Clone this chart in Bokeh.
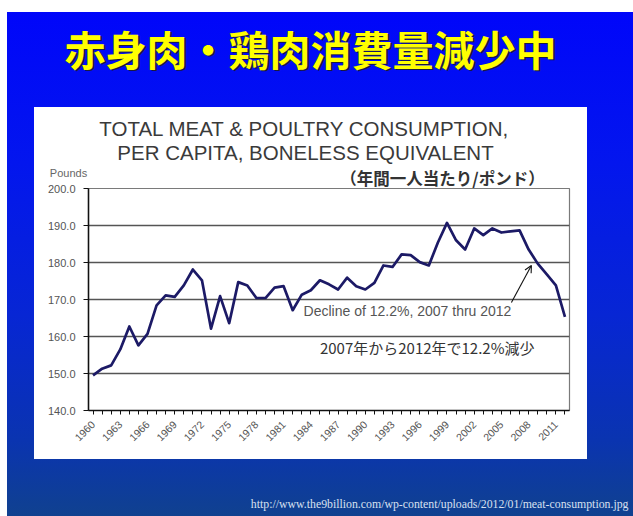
from bokeh.plotting import figure
from bokeh.models import (Label, Arrow, OpenHead, FixedTicker, NumeralTickFormatter,
                          ColumnDataSource, Range1d)
from bokeh.embed import file_html
from bokeh.resources import INLINE

# ---------------- data ----------------
years = list(range(1960, 2013))
consumption = [149.5, 151.3, 152.2, 156.5, 162.7, 157.6, 160.7, 168.4, 171.1, 170.7,
               173.8, 178.1, 175.2, 162.1, 170.9, 163.6, 174.7, 173.8, 170.4, 170.4,
               173.2, 173.6, 167.1, 171.3, 172.5, 175.2, 174.1, 172.7, 175.9, 173.6,
               172.7, 174.5, 179.2, 178.8, 182.2, 182.0, 180.1, 179.2, 185.4, 190.7,
               186.0, 183.5, 189.2, 187.4, 189.2, 188.1, 188.4, 188.7, 183.5, 179.7,
               176.8, 173.8, 165.3]
y_ticks = [140, 150, 160, 170, 180, 190, 200]
label_years = [y for y in years if (y - 1960) % 3 == 0]

main_title = "赤身肉・鶏肉消費量減少中"
chart_title_1 = "TOTAL MEAT & POULTRY CONSUMPTION,"
chart_title_2 = "PER CAPITA, BONELESS EQUIVALENT"
unit_en = "Pounds"
unit_jp = "（年間一人当たり/ポンド）"
note_en = "Decline of 12.2%, 2007 thru 2012"
note_jp = "2007年から2012年で12.2%減少"
source_url = "http://www.the9billion.com/wp-content/uploads/2012/01/meat-consumption.jpg"

W, H = 633, 516

# ---------------- chart ----------------
p = figure(width=W, height=H, output_backend="svg", toolbar_location=None, title=None,
           x_range=Range1d(1959.5, 2012.5), y_range=Range1d(140, 200),
           min_border_left=88, min_border_right=64, min_border_top=188, min_border_bottom=106)

p.border_fill_alpha = 0
p.background_fill_alpha = 0
p.outline_line_color = "#7a7a7a"
p.outline_line_width = 1.2
p.styles = {
    "background": ("linear-gradient(#ffffff, #ffffff) 34px 107px / 553px 352px no-repeat, "
                   "linear-gradient(180deg, #0006fa 0%, #0316ee 30%, #0726d4 60%, #0a34b0 85%, #10418f 100%) "
                   "7px 12px / 626px 504px no-repeat, #ffffff"),
}

src = ColumnDataSource(dict(year=years, value=consumption))
p.line("year", "value", source=src, line_color="#1c1a66", line_width=2.7, line_join="round")

p.yaxis.ticker = FixedTicker(ticks=y_ticks)
p.yaxis.formatter = NumeralTickFormatter(format="0.0")
p.yaxis.axis_line_color = "#111111"
p.yaxis.axis_line_width = 1.5
p.yaxis.major_tick_line_color = "#111111"
p.yaxis.major_tick_out = 5
p.yaxis.major_tick_in = 0
p.yaxis.minor_tick_line_color = None
p.yaxis.major_label_text_font = "Liberation Sans"
p.yaxis.major_label_text_font_size = "11px"
p.yaxis.major_label_text_color = "#555555"
p.yaxis.major_label_standoff = 8

p.xaxis.ticker = FixedTicker(ticks=years)
p.xaxis.major_label_overrides = {y: (str(y) if y in label_years else "") for y in years}
p.xaxis.major_label_orientation = 0.785
p.xaxis.axis_line_color = "#111111"
p.xaxis.axis_line_width = 1.5
p.xaxis.major_tick_line_color = "#111111"
p.xaxis.major_tick_out = 4
p.xaxis.major_tick_in = 0
p.xaxis.minor_tick_line_color = None
p.xaxis.major_label_text_font = "Liberation Sans"
p.xaxis.major_label_text_font_size = "10.5px"
p.xaxis.major_label_text_color = "#555555"
p.xaxis.major_label_standoff = 8

p.xgrid.grid_line_color = None
p.ygrid.ticker = FixedTicker(ticks=y_ticks[1:])
p.ygrid.grid_line_color = "#555555"
p.ygrid.grid_line_width = 1.4

p.add_layout(Label(x=1983.2, y=167.0, text=note_en, text_font="Liberation Sans",
                   text_font_size="14px", text_color="#555555",
                   text_align="left", text_baseline="middle"))
p.add_layout(Label(x=1985.0, y=157.0, text=note_jp, text_font="Noto Sans CJK JP",
                   text_font_size="15px", text_color="#333333",
                   text_align="left", text_baseline="middle"))
p.add_layout(Arrow(x_start=2006.1, y_start=169.2, x_end=2008.3, y_end=179.2,
                   line_color="#111111", line_width=1.1,
                   end=OpenHead(size=7, line_color="#111111", line_width=1.1)))

# ---------------- text overlay (pixel space, y from top), separate root ----------------
o = figure(width=W, height=H, output_backend="svg", toolbar_location=None, title=None,
           x_range=Range1d(0, W), y_range=Range1d(H, 0),
           x_axis_location=None, y_axis_location=None, min_border=0)
o.grid.visible = False
o.outline_line_color = None
o.border_fill_alpha = 0
o.background_fill_alpha = 0
o.styles = {"position": "absolute", "left": "0px", "top": "0px"}

def txt(x, y, text, **kw):
    o.add_layout(Label(x=x, y=y, text=text, **kw))

txt(312, 48.5, main_title, text_font="Noto Sans CJK JP", text_font_style="bold",
    text_font_size="41px", text_color="#1a1a40", text_align="center", text_baseline="middle")
txt(310, 47, main_title, text_font="Noto Sans CJK JP", text_font_style="bold",
    text_font_size="41px", text_color="#ffff00", text_align="center", text_baseline="middle")
txt(304, 128, chart_title_1, text_font="Liberation Sans", text_font_size="20.5px",
    text_color="#3a3a3a", text_align="center", text_baseline="middle")
txt(305, 152, chart_title_2, text_font="Liberation Sans", text_font_size="20.5px",
    text_color="#3a3a3a", text_align="center", text_baseline="middle")
txt(68, 172, unit_en, text_font="Liberation Sans", text_font_size="11px",
    text_color="#666666", text_align="center", text_baseline="middle")
txt(442, 177, unit_jp, text_font="Noto Sans CJK JP", text_font_style="bold",
    text_font_size="16.5px", text_color="#333333", text_align="center", text_baseline="middle")
txt(628, 503, source_url, text_font="Liberation Serif", text_font_size="11.8px",
    text_color="#d8e0f0", text_align="right", text_baseline="middle")

open("out.html", "w").write(file_html([p, o], INLINE))
